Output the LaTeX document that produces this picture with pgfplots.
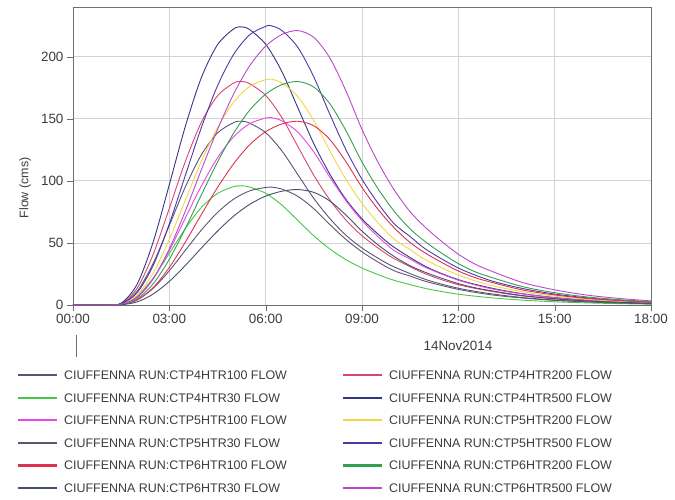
\documentclass[border=0pt]{standalone}
\usepackage{fontspec}
\setmainfont{Liberation Sans}
\usepackage{pgfplots}
\pgfplotsset{compat=1.18}

\definecolor{c4h100}{RGB}{85,85,120}
\definecolor{c4h200}{RGB}{215,70,115}
\definecolor{c4h30}{RGB}{70,200,70}
\definecolor{c4h500}{RGB}{50,55,130}
\definecolor{c5h100}{RGB}{230,70,230}
\definecolor{c5h200}{RGB}{240,215,70}
\definecolor{c5h30}{RGB}{95,85,115}
\definecolor{c5h500}{RGB}{80,55,165}
\definecolor{c6h100}{RGB}{220,50,80}
\definecolor{c6h200}{RGB}{50,160,80}
\definecolor{c6h30}{RGB}{70,80,105}
\definecolor{c6h500}{RGB}{190,70,205}
\definecolor{gridc}{RGB}{210,210,210}
\definecolor{framec}{RGB}{110,110,110}
\definecolor{textc}{RGB}{60,60,60}

\begin{document}
\begin{tikzpicture}
\begin{axis}[
    at={(0,0)}, anchor=south west,
    scale only axis,
    width=578bp, height=298bp,
    xmin=0, xmax=18, ymin=0, ymax=240,
    xtick={0,3,6,9,12,15,18},
    xticklabels={00:00,03:00,06:00,09:00,12:00,15:00,18:00},
    ytick={0,50,100,150,200},
    xtick pos=left, ytick pos=left,
    tick align=outside,
    major tick length=6bp,
    tick style={framec},
    axis line style={framec},
    grid=major,
    major grid style={gridc, line width=0.8pt},
    /pgf/number format/assume math mode=true,
    tick label style={font=\fontsize{13.5}{14}\selectfont, text=textc},
    xlabel={14Nov2014},
    xlabel style={at={(axis description cs:0.666,-0.1376)}, anchor=center,
        font=\fontsize{13.5}{14}\selectfont, text=textc},
    ylabel={Flow (cms)},
    ylabel style={at={(axis description cs:-0.083,0.393)}, anchor=center,
        font=\fontsize{12.5}{14}\selectfont, text=textc},
    legend columns=2,
    legend cell align=left,
    legend image code/.code={\draw[#1, line width=2.2pt] (0bp,0bp) -- (39bp,0bp);},
    legend style={draw=none, fill=none, inner sep=0pt, outer sep=0pt,
        at={(axis description cs:-0.0969,-0.2198)}, anchor=north west,
        font=\fontsize{12.5}{13}\selectfont, text=textc,
        row sep=13.6bp,
        nodes={inner sep=0pt, text height=9bp, text depth=0bp},
        /tikz/every odd column/.append style={column sep=6bp},
        /tikz/every even column/.append style={column sep=55bp}},
    every axis plot/.append style={line width=0.9pt, smooth},
]
% CTP4
\addplot[c4h100] coordinates {(0,0) (1,0) (1.5,1.0) (2,11.1) (2.5,33.7) (3,64.1) (3.5,95.2) (4,121.1) (4.5,138.5) (5,146.9) (5.25,148) (5.5,146.5) (6,138.8) (6.5,124.3) (7,105.1) (7.5,85.8) (8,69.6) (8.5,56.2) (9,45.9) (9.5,37.7) (10,30.7) (11,20.4) (12,13.5) (13,9.1) (14,6.0) (15,4.0) (16,2.6) (17,1.7) (18,1.0)};
\addplot[c4h200] coordinates {(0,0) (1,0) (1.5,1.2) (2,13.6) (2.5,41.0) (3,77.9) (3.5,115.7) (4,147.3) (4.5,168.4) (5,178.7) (5.25,180) (5.5,178.2) (6,168.8) (6.5,151.2) (7,127.8) (7.5,104.4) (8,84.6) (8.5,68.4) (9,55.8) (9.5,45.9) (10,37.4) (11,24.8) (12,16.4) (13,11.1) (14,7.3) (15,4.9) (16,3.1) (17,2.0) (18,1.3)};
\addplot[c4h30] coordinates {(0,0) (1,0) (1.5,0.7) (2,7.2) (2.5,21.8) (3,41.6) (3.5,61.7) (4,78.6) (4.5,89.8) (5,95.3) (5.25,96) (5.5,95.0) (6,90.0) (6.5,80.6) (7,68.2) (7.5,55.7) (8,45.1) (8.5,36.5) (9,29.8) (9.5,24.5) (10,19.9) (11,13.2) (12,8.7) (13,5.9) (14,3.9) (15,2.6) (16,1.7) (17,1.1) (18,0.7)};
\addplot[c4h500] coordinates {(0,0) (1,0) (1.5,1.5) (2,16.9) (2.5,51.0) (3,97.0) (3.5,144.0) (4,183.3) (4.5,209.6) (5,222.3) (5.25,224) (5.5,221.8) (6,210.0) (6.5,188.2) (7,159.0) (7.5,129.9) (8,105.3) (8.5,85.1) (9,69.4) (9.5,57.1) (10,46.5) (11,30.8) (12,20.4) (13,13.8) (14,9.1) (15,6.0) (16,3.9) (17,2.5) (18,1.6)};
% CTP5
\addplot[c5h100] coordinates {(0,0) (1,0) (1.5,0.6) (2,6.7) (2.5,21.5) (3,43.9) (3.5,70.1) (4,96.0) (4.5,118.5) (5,135.4) (5.5,146.0) (6,150.6) (6.15,151) (6.5,148.4) (7,139.3) (7.5,123.2) (8,103.0) (8.5,84.0) (9,68.0) (9.5,55.0) (10,43.9) (10.5,37.0) (11,30.0) (12,20.0) (13,13.2) (14,8.9) (15,5.9) (16,3.9) (17,2.5) (18,1.6)};
\addplot[c5h200] coordinates {(0,0) (1,0) (1.5,0.7) (2,8.1) (2.5,25.9) (3,52.9) (3.5,84.5) (4,115.8) (4.5,142.8) (5,163.2) (5.5,176.0) (6,181.5) (6.15,182) (6.5,178.9) (7,167.9) (7.5,148.5) (8,124.1) (8.5,101.2) (9,81.9) (9.5,66.2) (10,53.0) (10.5,44.6) (11,36.1) (12,24.1) (13,15.9) (14,10.7) (15,7.1) (16,4.7) (17,3.0) (18,1.9)};
\addplot[c5h30] coordinates {(0,0) (1,0) (1.5,0.4) (2,4.2) (2.5,13.5) (3,27.6) (3.5,44.1) (4,60.4) (4.5,74.5) (5,85.2) (5.5,91.9) (6,94.7) (6.15,95) (6.5,93.4) (7,87.6) (7.5,77.5) (8,64.8) (8.5,52.8) (9,42.8) (9.5,34.6) (10,27.6) (10.5,23.3) (11,18.9) (12,12.6) (13,8.3) (14,5.6) (15,3.7) (16,2.5) (17,1.6) (18,1.0)};
\addplot[c5h500] coordinates {(0,0) (1,0) (1.5,0.9) (2,10.0) (2.5,32.0) (3,65.4) (3.5,104.5) (4,143.1) (4.5,176.5) (5,201.7) (5.5,217.6) (6,224.4) (6.15,225) (6.5,221.2) (7,207.6) (7.5,183.6) (8,153.5) (8.5,125.1) (9,101.3) (9.5,81.9) (10,65.5) (10.5,55.1) (11,44.7) (12,29.8) (13,19.7) (14,13.3) (15,8.8) (16,5.8) (17,3.7) (18,2.4)};
% CTP6
\addplot[c6h100] coordinates {(0,0) (1,0) (1.5,0.4) (2,4.0) (2.5,14.1) (3,30.3) (3.5,50.7) (4,73.0) (4.5,94.6) (5,113.7) (5.5,129.0) (6,139.6) (6.5,145.8) (7,148) (7.5,144.3) (8,133.2) (8.5,115.4) (9,94.7) (9.5,77.0) (10,62.2) (10.5,50.3) (11,41.4) (11.5,34.0) (12,27.4) (12.5,22.2) (13,18.5) (14,12.1) (15,8.1) (16,5.3) (17,3.6) (18,2.2)};
\addplot[c6h200] coordinates {(0,0) (1,0) (1.5,0.5) (2,4.9) (2.5,17.2) (3,36.8) (3.5,61.7) (4,88.8) (4.5,115.1) (5,138.3) (5.5,156.8) (6,169.8) (6.5,177.4) (7,180) (7.5,175.5) (8,162.0) (8.5,140.4) (9,115.2) (9.5,93.6) (10,75.6) (10.5,61.2) (11,50.4) (11.5,41.4) (12,33.3) (12.5,27.0) (13,22.5) (14,14.8) (15,9.9) (16,6.5) (17,4.3) (18,2.7)};
\addplot[c6h30] coordinates {(0,0) (1,0) (1.5,0.2) (2,2.5) (2.5,8.9) (3,19.0) (3.5,31.9) (4,45.9) (4.5,59.5) (5,71.5) (5.5,81.0) (6,87.7) (6.5,91.6) (7,93) (7.5,90.7) (8,83.7) (8.5,72.5) (9,59.5) (9.5,48.4) (10,39.1) (10.5,31.6) (11,26.0) (11.5,21.4) (12,17.2) (12.5,14.0) (13,11.6) (14,7.6) (15,5.1) (16,3.3) (17,2.2) (18,1.4)};
\addplot[c6h500] coordinates {(0,0) (1,0) (1.5,0.6) (2,6.0) (2.5,21.1) (3,45.2) (3.5,75.7) (4,109.1) (4.5,141.3) (5,169.8) (5.5,192.6) (6,208.5) (6.5,217.8) (7,221) (7.5,215.5) (8,198.9) (8.5,172.4) (9,141.4) (9.5,114.9) (10,92.8) (10.5,75.1) (11,61.9) (11.5,50.8) (12,40.9) (12.5,33.2) (13,27.6) (14,18.1) (15,12.2) (16,8.0) (17,5.3) (18,3.3)};
\legend{CIUFFENNA RUN:CTP4HTR100 FLOW, CIUFFENNA RUN:CTP4HTR200 FLOW,
    CIUFFENNA RUN:CTP4HTR30 FLOW, CIUFFENNA RUN:CTP4HTR500 FLOW,
    CIUFFENNA RUN:CTP5HTR100 FLOW, CIUFFENNA RUN:CTP5HTR200 FLOW,
    CIUFFENNA RUN:CTP5HTR30 FLOW, CIUFFENNA RUN:CTP5HTR500 FLOW,
    CIUFFENNA RUN:CTP6HTR100 FLOW, CIUFFENNA RUN:CTP6HTR200 FLOW,
    CIUFFENNA RUN:CTP6HTR30 FLOW, CIUFFENNA RUN:CTP6HTR500 FLOW}
\end{axis}
% day separator under the first tick label
\draw[framec, line width=0.8pt] (3bp,-30bp) -- (3bp,-52bp);
\pgfresetboundingbox
\path[use as bounding box] (-73bp,-195bp) rectangle (602bp,305bp);
\end{tikzpicture}
\end{document}
